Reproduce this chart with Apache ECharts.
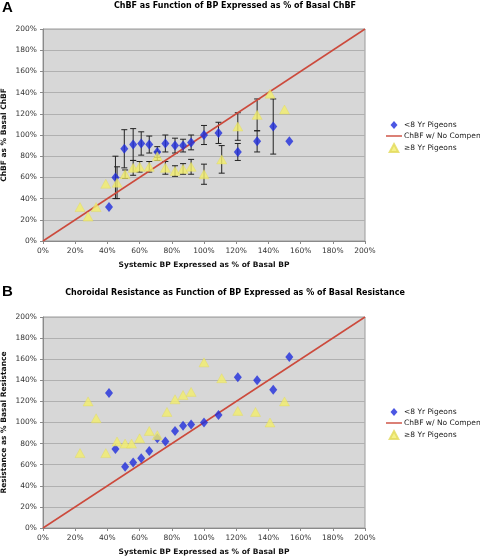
<!DOCTYPE html>
<html><head><meta charset="utf-8">
<script src="https://cdn.jsdelivr.net/npm/echarts@6/dist/echarts.min.js"></script>
<style>html,body{margin:0;padding:0;background:#fff}#c{width:480px;height:557px}</style>
</head><body><div id="c"></div>
<script>
// ---- Data ----
const axisTicks = [0, 20, 40, 60, 80, 100, 120, 140, 160, 180, 200];
const seriesNames = ['<8 Yr Pigeons', 'ChBF w/ No Compen', '\u22658 Yr Pigeons'];
const refLineX = [0, 200];
const refLineY = [0, 200];

// Panel A: ChBF
const aYoungX = [41, 45, 50.5, 56, 61, 66, 71, 76, 82, 87, 92, 100, 109, 121, 133, 143, 153];
const aYoungY = [32, 60, 87, 91, 92, 91, 84, 92, 90, 90, 93, 100, 102, 84, 94, 108, 94];
const aYoungErr = [0, 20, 18, 15, 11, 8, 5, 8, 7, 6, 7, 9, 10, 8, 10, 26, 0];
const aOldX = [23, 28, 33, 39, 46, 51, 56, 60, 66, 71, 76, 82, 87, 92, 100, 111, 121, 133, 141, 150];
const aOldY = [32, 23, 32, 54, 55, 63, 69, 70, 70, 80, 69, 66, 68, 70, 63, 77, 108, 119, 139, 124];
const aOldErr = [0, 0, 0, 0, 15, 4, 7, 5, 5, 4, 6, 5, 5, 7, 9.5, 13, 13, 15, 0, 0];

// Panel B: Resistance
const bYoungX = [41, 45, 51, 56, 61, 66, 71, 76, 82, 87, 92, 100, 109, 121, 133, 143, 153];
const bYoungY = [128, 75, 58, 62, 66, 73, 85, 82, 92, 97, 98, 100, 107, 143, 140, 131, 162];
const bOldX = [23, 28, 33, 39, 46, 51, 55, 60, 66, 71, 77, 82, 87, 92, 100, 111, 121, 132, 141, 150];
const bOldY = [71, 120, 104, 71, 82, 80, 80, 85, 92, 88, 110, 122, 126, 129, 157, 142, 111, 110, 100, 120];

const titles = ['ChBF as Function of BP Expressed as % of Basal ChBF',
                'Choroidal Resistance as Function of BP Expressed as % of Basal Resistance'];
const yNames = ['ChBF as % Basal ChBF', 'Resistance as % Basal Resistance'];
const xName = 'Systemic BP Expressed as % of Basal BP';
const panelLetters = ['A', 'B'];

// ---- Build ----
const FONT = 'DejaVu Sans';
const BLUE = '#1f2ddc';
const YELLOW = '#f3ee6c';
const RED = '#cc4a3c';

function zip(xs, ys) { return xs.map((x, i) => [x, ys[i]]); }
function zip3(xs, ys, es) {
  const out = [];
  xs.forEach((x, i) => { if (es[i] > 0) out.push([x, ys[i], es[i]]); });
  return out;
}

const grids = [
  { left: 43, top: 29, width: 322, height: 212 },
  { left: 43, top: 317, width: 322, height: 211 }
];

function xAxisFor(i) {
  return {
    gridIndex: i, type: 'value', min: axisTicks[0], max: axisTicks[axisTicks.length - 1], interval: 20,
    name: xName, nameLocation: 'middle', nameGap: 20, nameMoveOverlap: false,
    nameTextStyle: { fontFamily: FONT, fontWeight: 'bold', fontSize: 7.5, color: '#111' },
    axisLine: { show: true, lineStyle: { color: '#8a8a8a' } },
    axisTick: { show: true, length: 3, lineStyle: { color: '#8a8a8a' } },
    axisLabel: { formatter: '{value}%', fontFamily: FONT, fontSize: 7.5, color: '#333', margin: 6 },
    splitLine: { show: false }
  };
}
function yAxisFor(i) {
  return {
    gridIndex: i, type: 'value', min: axisTicks[0], max: axisTicks[axisTicks.length - 1], interval: 20,
    name: yNames[i], nameLocation: 'middle', nameGap: 35, nameRotate: 90, nameMoveOverlap: false,
    nameTextStyle: { fontFamily: FONT, fontWeight: 'bold', fontSize: 7.5, color: '#111' },
    axisLine: { show: true, lineStyle: { color: '#8a8a8a' } },
    axisTick: { show: true, length: 3, lineStyle: { color: '#8a8a8a' } },
    axisLabel: { formatter: '{value}%', fontFamily: FONT, fontSize: 7.5, color: '#333', margin: 6 },
    splitLine: { show: true, lineStyle: { color: '#b0b0b0', width: 1 } }
  };
}

function errRender(params, api) {
  const x = api.value(0), y = api.value(1), e = api.value(2);
  const hi = api.coord([x, y + e]);
  const lo = api.coord([x, y - e]);
  const c = 3;
  const st = { stroke: '#222', lineWidth: 1 };
  return {
    type: 'group',
    children: [
      { type: 'line', shape: { x1: hi[0], y1: hi[1], x2: lo[0], y2: lo[1] }, style: st },
      { type: 'line', shape: { x1: hi[0] - c, y1: hi[1], x2: hi[0] + c, y2: hi[1] }, style: st },
      { type: 'line', shape: { x1: lo[0] - c, y1: lo[1], x2: lo[0] + c, y2: lo[1] }, style: st }
    ]
  };
}

function panelSeries(i, yX, yY, oX, oY, yErr, oErr) {
  const s = [];
  if (yErr) {
    s.push({ type: 'custom', xAxisIndex: i, yAxisIndex: i, renderItem: errRender,
      data: zip3(yX, yY, yErr), z: 1, silent: true });
    s.push({ type: 'custom', xAxisIndex: i, yAxisIndex: i, renderItem: errRender,
      data: zip3(oX, oY, oErr), z: 1, silent: true });
  }
  s.push({ name: seriesNames[0], type: 'scatter', xAxisIndex: i, yAxisIndex: i,
    symbol: 'diamond', symbolSize: [8, 10], itemStyle: { color: BLUE },
    data: zip(yX, yY), z: 4 });
  s.push({ name: seriesNames[1], type: 'line', xAxisIndex: i, yAxisIndex: i,
    symbol: 'none', lineStyle: { color: RED, width: 1.5 }, itemStyle: { color: RED },
    data: zip(refLineX, refLineY), z: 3 });
  s.push({ name: seriesNames[2], type: 'scatter', xAxisIndex: i, yAxisIndex: i,
    symbol: 'triangle', symbolSize: [10, 9], itemStyle: { color: YELLOW, borderColor: '#e2da5a', borderWidth: 0.5 },
    data: zip(oX, oY), z: 4 });
  return s;
}

function legendFor(top) {
  return {
    orient: 'vertical', left: 386, top: top, itemWidth: 16, itemHeight: 8, itemGap: 3,
    padding: 0, selectedMode: false,
    textStyle: { fontFamily: FONT, fontSize: 7.5, color: '#222', padding: [0, 0, 0, -3] },
    data: [
      { name: seriesNames[0], icon: 'path://M4,0 L7.5,4 L4,8 L0.5,4 Z', itemStyle: { color: BLUE } },
      { name: seriesNames[1], icon: 'path://M0,3.3 L16,3.3 L16,4.7 L0,4.7 Z', itemStyle: { color: RED } },
      { name: seriesNames[2], icon: 'path://M4,1 L7.5,7.5 L0.5,7.5 Z', itemStyle: { color: YELLOW } }
    ]
  };
}

const option = {
  animation: false,
  backgroundColor: '#fff',
  title: [
    { text: panelLetters[0], left: 2, top: 0, padding: 0, textStyle: { fontFamily: 'Liberation Sans', fontWeight: 'bold', fontSize: 15, color: '#000' } },
    { text: titles[0], left: 235, textAlign: 'center', top: 2, padding: 0, textStyle: { fontFamily: FONT, fontWeight: 'bold', fontSize: 8, color: '#000' } },
    { text: panelLetters[1], left: 2, top: 284, padding: 0, textStyle: { fontFamily: 'Liberation Sans', fontWeight: 'bold', fontSize: 15, color: '#000' } },
    { text: titles[1], left: 235, textAlign: 'center', top: 289, padding: 0, textStyle: { fontFamily: FONT, fontWeight: 'bold', fontSize: 8, color: '#000' } }
  ],
  legend: [legendFor(121), legendFor(408)],
  grid: grids.map(g => Object.assign({ show: true, outerBoundsMode: 'none', containLabel: false,
    backgroundColor: '#d7d7d7', borderColor: '#9a9a9a', borderWidth: 1 }, g)),
  xAxis: [xAxisFor(0), xAxisFor(1)],
  yAxis: [yAxisFor(0), yAxisFor(1)],
  series: [].concat(
    panelSeries(0, aYoungX, aYoungY, aOldX, aOldY, aYoungErr, aOldErr),
    panelSeries(1, bYoungX, bYoungY, bOldX, bOldY, null, null)
  )
};

const chart = echarts.init(document.getElementById('c'), null, { renderer: 'canvas' });
chart.setOption(option);
</script>
</body></html>
